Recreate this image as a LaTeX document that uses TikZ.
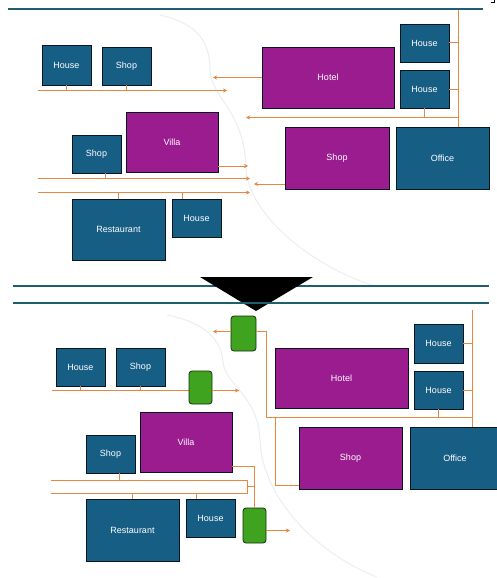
\documentclass[tikz,border=0pt]{standalone}
\usepackage{fontspec}
\setmainfont{Liberation Sans}
\usetikzlibrary{arrows.meta}
\definecolor{RoadBlue}{HTML}{175E85}
\definecolor{RoadPurple}{HTML}{9A1C8E}
\definecolor{RoadGreen}{HTML}{3FA31F}
\definecolor{RoadOrange}{HTML}{E8873F}
\definecolor{RoadTeal}{HTML}{1F5E70}
\definecolor{RoadCurve}{HTML}{E9EEF3}
\tikzset{
  plotbox/.style={draw=black!75!RoadBlue,line width=0.8pt,anchor=north west,inner sep=0pt,outer sep=0pt,
    text=white,font=\fontsize{9}{10}\selectfont,minimum width=#1},
  bluebox/.style={plotbox=49pt,fill=RoadBlue,minimum height=38pt},
  purplebox/.style={plotbox=92pt,fill=RoadPurple,minimum height=61pt},
  gatebox/.style={draw=black!70!RoadGreen,fill=RoadGreen,line width=0.8pt,rounded corners=3pt,
    anchor=north west,inner sep=0pt,outer sep=0pt,minimum width=#1},
  roadline/.style={RoadOrange,line width=1pt},
  roadarrow/.style={roadline,-{Stealth[length=4pt,width=4pt,fill=black!50!RoadOrange]}},
  edgeline/.style={RoadTeal,line width=2pt},
  curveline/.style={RoadCurve,line width=1pt}
}
\begin{document}
\begin{tikzpicture}[x=1pt,y=-1pt,line cap=butt,line join=miter]
  \useasboundingbox (0,0) rectangle (496,578);
  % faint road edges
  \draw[curveline] (160,15) .. controls (190,22) and (210,35) .. (210,70)
    .. controls (212,100) and (245,110) .. (246,170)
    .. controls (250,215) and (310,265) .. (372,285);
  \draw[curveline] (167,315) .. controls (195,320) and (222,335) .. (223,362)
    .. controls (225,385) and (258,395) .. (260,440)
    .. controls (262,500) and (320,555) .. (377,577);

  % upper panel
  \coordinate (topL) at (8,9.5);
  \coordinate (topR) at (483,9.5);
  \coordinate (midL) at (13,286);
  \coordinate (midR) at (489,286);
  \draw[edgeline] (topL) -- (topR);
  \draw[edgeline] (midL) -- (midR);
  \draw[black,line width=1pt] (491,3) -- (494,3) -- (494,0);

  \node[bluebox,minimum height=40pt] (houseA) at (42,45) {House};
  \node[bluebox] (shopA) at (102,47) {Shop};
  \node[bluebox] (shopB) at (72,135) {Shop};
  \node[bluebox] (houseB) at (172,199) {House};
  \node[bluebox,plotbox=93pt,minimum height=61pt] (restA) at (72,199) {Restaurant};
  \node[purplebox,minimum height=60pt] (villaA) at (126,112) {Villa};
  \node[bluebox] (houseC) at (400,24) {House};
  \node[bluebox] (houseD) at (400,70) {House};
  \node[purplebox,plotbox=132pt] (hotelA) at (262,47) {Hotel};
  \node[purplebox,plotbox=104pt,minimum height=62pt] (shopC) at (285,127) {Shop};
  \node[bluebox,plotbox=93pt,minimum height=62pt] (officeA) at (396,127) {Office};

  \coordinate (busAs) at (38,90.5);
  \coordinate (busAe) at (227,90.5);
  \coordinate (busBs) at (38,178.5);
  \coordinate (busBe) at (250,178.5);
  \coordinate (busCs) at (38,192.5);
  \coordinate (busCe) at (250,192.5);
  \coordinate (hotelEnd) at (213,77.5);
  \coordinate (villaEnd) at (248,166);
  \coordinate (shopEnd) at (254,184);
  \coordinate (spineTop) at (458.5,10);
  \coordinate (crossEnd) at (246,117.5);
  \coordinate (crossR) at (458.5,117.5);

  \draw[roadarrow] (busAs) -- (busAe);
  \draw[roadarrow] (busBs) -- (busBe);
  \draw[roadarrow] (busCs) -- (busCe);
  \draw[roadline] (houseA.south) -- (houseA.south |- busAs);
  \draw[roadline] (shopA.south) -- (shopA.south |- busAs);
  \draw[roadline] ([xshift=8.5pt]shopB.south) -- ([xshift=8.5pt]shopB.south |- busBs);
  \draw[roadline] (restA.north) -- (restA.north |- busCs);
  \draw[roadline] ([xshift=-14.5pt]houseB.north) -- ([xshift=-14.5pt]houseB.north |- busCs);
  \draw[roadarrow] (hotelA.west) -- (hotelEnd);
  \draw[roadarrow] ([yshift=-24pt]villaA.east) -- (villaEnd);
  \draw[roadarrow] ([yshift=-26pt]shopC.west) -- (shopEnd);
  \draw[roadline] (spineTop) -- (spineTop |- officeA.north);
  \draw[roadarrow] (crossR) -- (crossEnd);
  \draw[roadline] (houseC.east) -- (houseC.east -| spineTop);
  \draw[roadline] (houseD.east) -- (houseD.east -| spineTop);
  \draw[roadline] (houseD.south) -- (houseD.south |- crossR);

  % arrow between panels
  \fill[black] (200,277) -- (313,277) -- (256,311) -- cycle;

  % lower panel
  \coordinate (lowL) at (13,303);
  \coordinate (lowR) at (489,303);
  \draw[edgeline] (lowL) -- (lowR);

  \node[bluebox] (houseE) at (56,348) {House};
  \node[bluebox] (shopE) at (116,348) {Shop};
  \node[bluebox] (shopF) at (86,435) {Shop};
  \node[bluebox] (houseF) at (186,499) {House};
  \node[bluebox,plotbox=93pt,minimum height=62pt] (restB) at (86,499) {Restaurant};
  \node[purplebox,minimum height=60pt] (villaB) at (140,412) {Villa};
  \node[bluebox,minimum height=39pt] (houseG) at (414,324) {House};
  \node[bluebox] (houseH) at (414,371) {House};
  \node[purplebox,plotbox=133pt,minimum height=60pt] (hotelB) at (275,348) {Hotel};
  \node[purplebox,plotbox=103pt,minimum height=62pt] (shopG) at (299,427) {Shop};
  \node[bluebox,plotbox=90pt,minimum height=62pt] (officeB) at (410,427) {Office};

  \coordinate (busDs) at (52,390.5);
  \coordinate (busDe) at (239,390.5);
  \coordinate (busEs) at (51,480.5);
  \coordinate (busFs) at (51,493.5);
  \coordinate (busEr) at (247.5,480.5);
  \coordinate (busFr) at (247.5,493.5);
  \coordinate (joinEF) at (254.5,486.5);
  \coordinate (gateAEnd) at (213,331.5);
  \coordinate (gateCEnd) at (290,530.5);
  \coordinate (spineLow) at (472.5,310);
  \coordinate (crossLowL) at (266.5,417.5);
  \coordinate (crossLowR) at (472.5,417.5);
  \coordinate (shopDrop) at (275.5,417.5);

  \draw[roadline] (busDs) -- (busDe);
  \node[gatebox=23pt,minimum height=33pt] (gateB) at (189,371) {};
  \node[gatebox=25pt,minimum height=35pt] (gateA) at (231,316) {};
  \node[gatebox=23pt,minimum height=35pt] (gateC) at (243,508) {};
  \draw[roadarrow] (gateB.east |- busDe) -- (busDe);
  \draw[roadline] (busEs) -- (busEr) -- (busFr) -- (busFs);
  \draw[roadline] (joinEF -| busEr) -- (joinEF);
  \draw[roadline] (houseE.south) -- (houseE.south |- busDs);
  \draw[roadline] (shopE.south) -- (shopE.south |- busDs);
  \draw[roadline] ([xshift=8.5pt]shopF.south) -- ([xshift=8.5pt]shopF.south |- busEs);
  \draw[roadline] (restB.north) -- (restB.north |- busFs);
  \draw[roadline] ([xshift=-14.5pt]houseF.north) -- ([xshift=-14.5pt]houseF.north |- busFs);
  \draw[roadarrow] (gateA.west |- gateAEnd) -- (gateAEnd);
  \draw[roadline] (gateA.east |- gateAEnd) -| (crossLowL) -- (crossLowR);
  \draw[roadline] (spineLow) -- (spineLow |- officeB.north);
  \draw[roadline] (houseG.east) -- (houseG.east -| spineLow);
  \draw[roadline] (houseH.east) -- (houseH.east -| spineLow);
  \draw[roadline] (houseH.south) -- (houseH.south |- crossLowR);
  \draw[roadline] (shopDrop) |- ([yshift=-27pt]shopG.west);
  \draw[roadline] ([yshift=-24.5pt]villaB.east) -| (joinEF |- gateC.north);
  \draw[roadarrow] (gateC.east |- gateCEnd) -- (gateCEnd);
\end{tikzpicture}
\end{document}
